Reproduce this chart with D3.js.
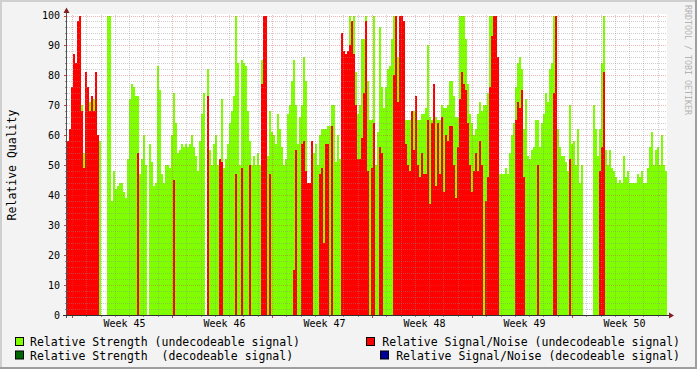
<!DOCTYPE html>
<html>
<head>
<meta charset="utf-8">
<script src="https://cdn.jsdelivr.net/npm/d3@7"></script>
<style>
  body { margin: 0; background: #f3f3f3; }
  text { font-family: "DejaVu Sans Mono", monospace; }
</style>
</head>
<body>
<script>
// one value every 1/50 week, starting Sunday 1 Nov 2009 15:36 UTC
const strength = [
  53,55,55,60,60,60,60,70,54,60, 60,71,60,72,60,58,58,null,null,null,
  100,100,38,48,42,43,44,44,41,39, 52,72,77,76,73,73,47,52,60,50,
  null,57,51,43,44,83,75,47,44,50,
  50,49,60,74,64,54,55,57,56,57, 56,57,60,56,53,48,58,67,74,null,
  82,55,50,57,60,50,50,72,49,52, 57,64,68,73,100,84,50,85,84,83,
  68,58,50,53,50,54,50,85,60,60,
  53,68,61,60,57,67,62,56,50,52, 67,70,78,85,70,57,66,70,86,78,
  44,44,50,54,57,50,60,62,62,62, 63,63,70,70,51,60,52,60,60,60,
  60,100,60,100,81,67,70,92,92,100,
  78,65,65,100,50,61,96,76,69,76, 82,83,92,100,91,86,60,60,60,65,
  65,65,65,68,69,65,65,67,67,69, 90,66,65,67,66,65,65,70,69,69,
  70,78,78,73,66,66,100,100,100,92,
  77,67,64,60,62,67,71,68,70,70, 74,100,100,60,60,68,47,47,47,49,
  47,54,60,64,76,84,86,82,62,72, 53,52,55,56,65,65,56,64,67,74,
  71,82,84,100,68,62,56,53,53,51,
  48,70,57,58,50,62,44,50,null,null, null,null,null,70,62,53,62,84,100,55,
  50,55,49,48,46,44,45,44,53,46, 48,44,44,44,44,47,46,48,44,44,
  49,56,61,50,55,56,50,60,50,48
]

const snr = [
  58,62,76,87,84,98,100,68,49,81, 76,68,73,68,81,60,null,null,null,null,
  null,null,null,null,null,null,null,null,null,null, null,null,null,null,null,54,null,null,null,null,
  null,null,null,null,null,null,null,null,null,null,
  null,null,null,45,null,null,null,null,null,null, null,null,null,null,null,null,null,null,null,null,
  73,null,null,null,null,null,52,51,null,null, null,null,null,null,47,null,null,49,null,null,
  null,50,null,null,null,null,null,77,100,100,
  null,47,null,null,null,null,null,null,null,null, null,null,null,15,55,null,null,57,58,48,
  44,44,58,null,null,null,47,49,24,57, 57,null,63,null,null,null,null,94,88,87,
  88,90,98,87,70,52,52,59,74,98,
  48,null,49,64,null,null,56,54,null,null, null,null,null,80,100,71,100,100,98,57,
  50,48,68,55,73,50,46,54,47,47, 65,37,64,77,43,64,47,66,41,60,
  58,63,63,50,39,56,72,81,77,75,
  64,50,41,48,54,48,58,50,null,38, 46,76,93,100,100,86,null,null,null,null,
  null,null,null,null,65,71,69,75,46,null, null,null,null,null,null,50,null,null,null,null,
  null,null,null,74,100,null,null,null,null,null,
  null,52,null,null,null,null,null,null,null,null, null,null,null,null,null,null,48,56,81,null,
  null,null,null,null,null,null,null,null,null,null, null,null,null,null,null,null,null,null,null,null,
  null,null,null,null,null,null,null,null,null,null
]

const yTicks = [0, 10, 20, 30, 40, 50, 60, 70, 80, 90, 100]
const legendLeft = ['Relative Strength (undecodeable signal)', 'Relative Strength  (decodeable signal)']
const legendRight = ['Relative Signal/Noise (undecodeable signal)', 'Relative Signal/Noise (decodeable signal)']
const yTitle = 'Relative Quality'
const watermark = 'RRDTOOL / TOBI OETIKER'

const COLORS = {
  strength: '#80ff00',
  strengthOk: '#006600',
  snr: '#ff0000',
  snrOk: '#000099',
}

const WEEK = 7 * 24 * 3600 * 1000
const START = Date.UTC(2009, 10, 1, 15, 36)
const END = START + 6 * WEEK
const STEP = (END - START) / strength.length

const width = 697
const height = 369
const plotLeft = 67, plotRight = 667, plotTop = 15, plotBottom = 315

const svg = d3.select('body').append('svg')
  .attr('width', width)
  .attr('height', height)
  .style('display', 'block')

const x = d3.scaleUtc().domain([START, END]).range([plotLeft, plotRight])
const y = d3.scaleLinear().domain([0, 100]).range([plotBottom, plotTop + 0.5])

// frame
svg.append('rect').attr('width', width).attr('height', height).attr('fill', '#f3f3f3')
svg.append('path').attr('d', `M0,${height} V0 H${width}`)
  .attr('fill', 'none').attr('stroke', '#cfcfcf').attr('stroke-width', 4)
svg.append('path').attr('d', `M0,${height} H${width} V0`)
  .attr('fill', 'none').attr('stroke', '#9e9e9e').attr('stroke-width', 4)

svg.append('rect')
  .attr('x', plotLeft).attr('y', plotTop - 1)
  .attr('width', plotRight - plotLeft).attr('height', plotBottom - plotTop + 1)
  .attr('fill', '#ffffff')

const rows = strength.map((g, i) => ({
  t0: START + i * STEP,
  t1: START + (i + 1) * STEP,
  g: g,
  r: snr[i],
}))

let bars = svg.append('g').attr('shape-rendering', 'crispEdges')

bars.selectAll('.g')
  .data(rows.filter(d => d.g != null))
  .enter().append('rect')
    .attr('class', 'g')
    .attr('x', d => x(d.t0))
    .attr('width', d => x(d.t1) - x(d.t0))
    .attr('y', d => y(d.g))
    .attr('height', d => y(0) - y(d.g))
    .attr('fill', COLORS.strength)

bars.selectAll('.r')
  .data(rows.filter(d => d.r != null))
  .enter().append('rect')
    .attr('class', 'r')
    .attr('x', d => x(d.t0))
    .attr('width', d => x(d.t1) - x(d.t0))
    .attr('y', d => y(d.r))
    .attr('height', d => y(0) - y(d.r))
    .attr('fill', COLORS.snr)

// grid on top of the data, like rrdtool does
const MINOR = 'rgba(140,140,140,0.42)'
const MAJOR = 'rgba(220,60,60,0.38)'
let grid = svg.append('g').attr('shape-rendering', 'crispEdges')

d3.range(2, 101, 2).forEach(v => {
  let yy = Math.round(y(v)) + 0.5
  let major = v % 10 === 0
  grid.append('line')
    .attr('x1', plotLeft).attr('x2', plotRight)
    .attr('y1', yy).attr('y2', yy)
    .attr('stroke', major ? MAJOR : MINOR)
    .attr('stroke-dasharray', '1,1')
  grid.append('line')
    .attr('x1', plotLeft - (major ? 3 : 2)).attr('x2', plotLeft)
    .attr('y1', yy).attr('y2', yy)
    .attr('stroke', major ? '#c04040' : '#909090')
})

d3.utcDay.range(START, END).forEach(t => {
  let xx = Math.round(x(t)) + 0.5
  let major = t.getUTCDay() === 1
  grid.append('line')
    .attr('x1', xx).attr('x2', xx)
    .attr('y1', plotTop).attr('y2', plotBottom)
    .attr('stroke', major ? MAJOR : MINOR)
    .attr('stroke-dasharray', '1,1')
  grid.append('line')
    .attr('x1', xx).attr('x2', xx)
    .attr('y1', plotBottom).attr('y2', plotBottom + (major ? 3 : 2))
    .attr('stroke', major ? '#c04040' : '#909090')
})

// axes lines and arrows
svg.append('line')
  .attr('x1', plotLeft - 0.5).attr('x2', plotLeft - 0.5)
  .attr('y1', plotBottom + 3).attr('y2', 10)
  .attr('stroke', '#505050')
svg.append('line')
  .attr('x1', plotLeft - 4).attr('x2', plotRight + 3)
  .attr('y1', plotBottom + 0.5).attr('y2', plotBottom + 0.5)
  .attr('stroke', '#303030')
svg.append('path')
  .attr('d', `M${plotLeft - 3.5},13 L${plotLeft + 2.5},13 L${plotLeft - 0.5},7.5 Z`)
  .attr('fill', '#7f1f1f')
svg.append('path')
  .attr('d', `M${plotRight + 2},${plotBottom - 2.5} L${plotRight + 2},${plotBottom + 3.5} L${plotRight + 7},${plotBottom + 0.5} Z`)
  .attr('fill', '#7f1f1f')

// axis labels
let yAxis = svg.append('g')
  .attr('transform', `translate(${plotLeft},0)`)
  .call(d3.axisLeft(y).tickValues(yTicks).tickSize(0).tickPadding(7))
yAxis.select('.domain').remove()
yAxis.selectAll('text')
  .attr('font-family', '"DejaVu Sans Mono", monospace')
  .attr('font-size', 10)
  .attr('fill', '#000')

const weekFormat = d3.utcFormat('Week %V')
let weeks = d3.utcMonday.range(START, END)
let xAxis = svg.append('g')
  .attr('transform', `translate(2,${plotBottom})`)
  .call(d3.axisBottom(x)
    .tickValues(weeks.map(w => new Date(+w + WEEK / 2)))
    .tickFormat((d) => weekFormat(new Date(+d - WEEK / 2)))
    .tickSize(0).tickPadding(5))
xAxis.select('.domain').remove()
xAxis.selectAll('text')
  .attr('font-family', '"DejaVu Sans Mono", monospace')
  .attr('font-size', 10)
  .attr('fill', '#000')

svg.append('text')
  .attr('transform', 'translate(16,165) rotate(-90)')
  .attr('text-anchor', 'middle')
  .style('font-size', '11.5px')
  .attr('fill', '#000')
  .text(yTitle)

svg.append('text')
  .attr('transform', 'translate(685,5) rotate(90)')
  .attr('text-anchor', 'start')
  .style('font-size', '8.3px')
  .attr('fill', '#b4b4b4')
  .text(watermark)

// legend
const leftColors = [COLORS.strength, COLORS.strengthOk]
const rightColors = [COLORS.snr, COLORS.snrOk]

legendLeft.forEach((label, i) => {
  let ty = 346 + i * 13.5
  svg.append('rect')
    .attr('x', 15.5).attr('y', ty - 8.5)
    .attr('width', 8).attr('height', 8)
    .attr('fill', leftColors[i]).attr('stroke', '#000')
  svg.append('text')
    .attr('x', 30).attr('y', ty)
    .style('font-size', '11.5px')
    .style('white-space', 'pre')
    .attr('fill', '#000')
    .text(label)
})

legendRight.forEach((label, i) => {
  let ty = 346 + i * 13.5
  let t = svg.append('text')
    .attr('x', 680).attr('y', ty)
    .attr('text-anchor', 'end')
    .style('font-size', '11.5px')
    .style('white-space', 'pre')
    .attr('fill', '#000')
    .text(label)
  let startX = 680 - t.node().getComputedTextLength()
  svg.append('rect')
    .attr('x', Math.round(startX - 16) + 0.5).attr('y', ty - 8.5)
    .attr('width', 8).attr('height', 8)
    .attr('fill', rightColors[i]).attr('stroke', '#000')
})
</script>
</body>
</html>
